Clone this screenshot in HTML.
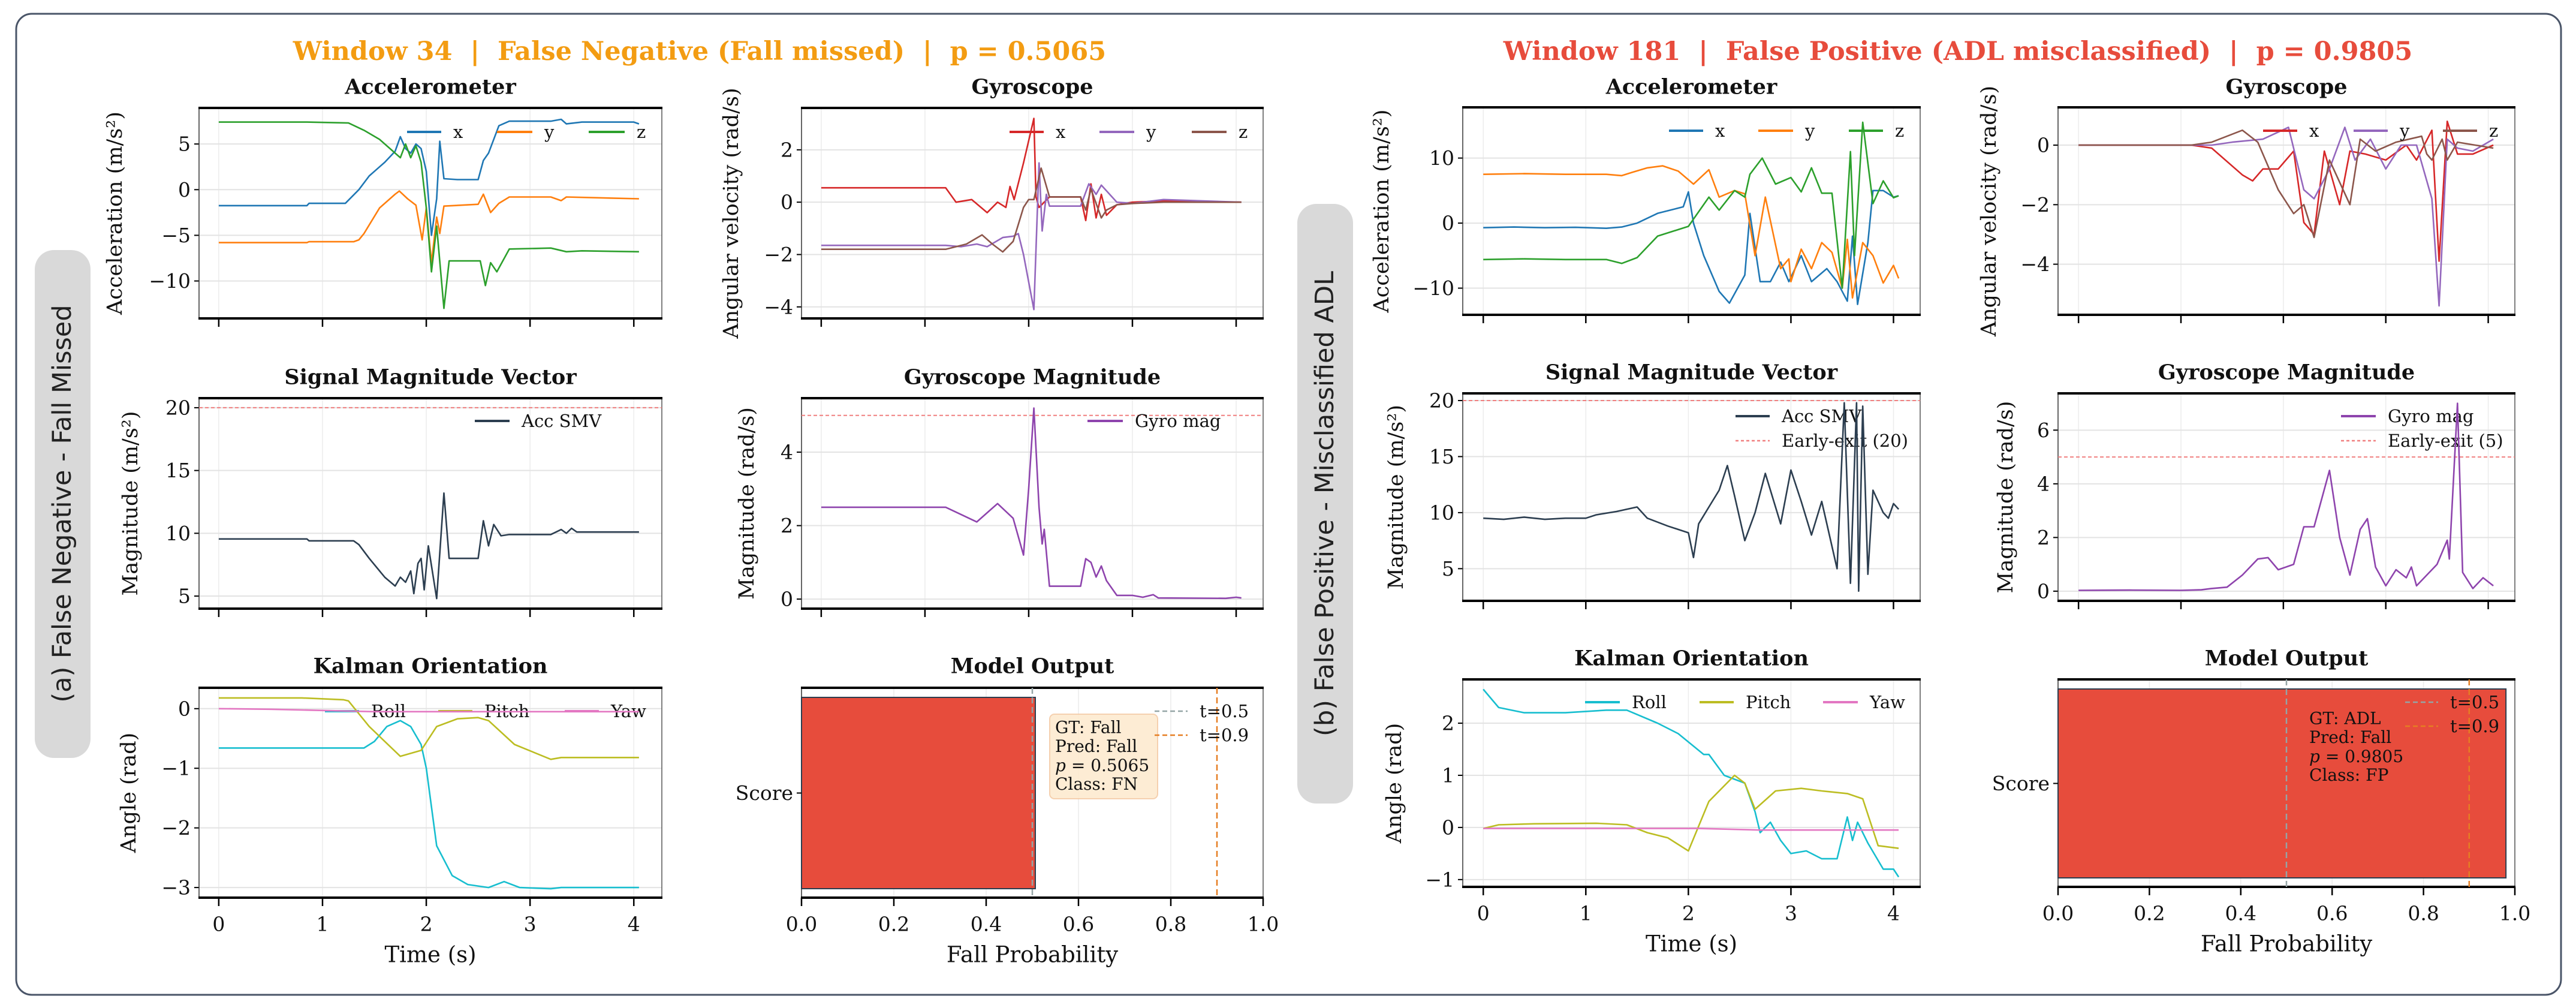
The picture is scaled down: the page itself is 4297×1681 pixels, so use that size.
<!DOCTYPE html>
<html><head><meta charset="utf-8"><title>Error analysis</title>
<style>html,body{margin:0;padding:0;background:#fff;}svg{display:block;}</style></head>
<body>
<svg id="chart" xmlns="http://www.w3.org/2000/svg" width="4297" height="1681" viewBox="0 0 4297 1681" font-family="'DejaVu Serif','Liberation Serif',serif">
<rect x="0" y="0" width="4297" height="1681" fill="#fff"/>
<rect x="27" y="23" width="4245" height="1636" rx="26" fill="none" stroke="#4a5568" stroke-width="3"/>
<rect x="58" y="417" width="93" height="847" rx="32" fill="#d9d9d9"/>
<text x="104" y="840" transform="rotate(-90 104 840)" text-anchor="middle" dominant-baseline="central" font-family="'DejaVu Sans','Liberation Sans',sans-serif" font-size="43" fill="#222">(a) False Negative - Fall Missed</text>
<rect x="2164" y="340" width="93" height="1000" rx="32" fill="#d9d9d9"/>
<text x="2210" y="840" transform="rotate(-90 2210 840)" text-anchor="middle" dominant-baseline="central" font-family="'DejaVu Sans','Liberation Sans',sans-serif" font-size="43" fill="#222">(b) False Positive - Misclassified ADL</text>
<text x="1167" y="86" text-anchor="middle" dominant-baseline="central" font-size="43" font-weight="bold" fill="#f39c12">Window 34 &#160;| &#160;False Negative (Fall missed) &#160;| &#160;p = 0.5065</text>
<text x="3266" y="86" text-anchor="middle" dominant-baseline="central" font-size="43" font-weight="bold" fill="#e74c3c">Window 181 &#160;| &#160;False Positive (ADL misclassified) &#160;| &#160;p = 0.9805</text>
</svg>
<script>
// ---------- DATA ----------
const timeTicks = [0, 1, 2, 3, 4];
const probTicks = [0, 0.2, 0.4, 0.6, 0.8, 1.0];
const probTickLabels = ["0.0", "0.2", "0.4", "0.6", "0.8", "1.0"];
const thresholds = [0.5, 0.9];
const thresholdLabels = ["t=0.5", "t=0.9"];
const probA = [0.5065];
const probB = [0.9805];
const smvLimit = [20];
const gyroLimit = [5];

const accA_x = [[0,-1.75],[0.85,-1.75],[0.87,-1.5],[1.22,-1.5],[1.35,0],[1.45,1.5],[1.5,2],[1.6,3],[1.7,4.2],[1.75,5.8],[1.8,4.5],[1.85,4],[1.9,5],[1.95,4.5],[2.0,2],[2.05,-5],[2.1,-1],[2.13,5.3],[2.17,1.2],[2.3,1.1],[2.5,1.1],[2.55,3.2],[2.6,4],[2.7,7],[2.8,7.5],[3.0,7.5],[3.2,7.5],[3.3,7.7],[3.35,7.2],[3.5,7.4],[4.0,7.4],[4.05,7.2]];
const accA_y = [[0,-5.8],[0.85,-5.8],[0.87,-5.7],[1.3,-5.7],[1.35,-5.5],[1.4,-4.8],[1.55,-2],[1.7,-0.5],[1.74,-0.15],[1.82,-1],[1.9,-1.7],[1.96,-5.5],[2.0,-2],[2.05,-8],[2.1,-3],[2.13,-4.8],[2.17,-1.8],[2.5,-1.6],[2.55,-0.5],[2.62,-2.5],[2.7,-1.5],[2.8,-0.8],[3.2,-0.8],[3.3,-1.2],[3.35,-0.8],[4.05,-1.0]];
const accA_z = [[0,7.4],[0.85,7.4],[1.25,7.3],[1.4,6.5],[1.55,5.5],[1.7,4],[1.75,3.5],[1.8,5],[1.85,3.5],[1.9,4.8],[1.95,3],[2.0,-2],[2.05,-9],[2.1,-4],[2.17,-13],[2.22,-7.8],[2.52,-7.8],[2.57,-10.5],[2.62,-8],[2.68,-9],[2.8,-6.5],[3.2,-6.4],[3.35,-6.8],[3.5,-6.7],[4.05,-6.8]];
const gyrA_x = [[0,0.55],[1.2,0.55],[1.3,0],[1.45,0.1],[1.6,-0.4],[1.7,0],[1.78,-0.2],[1.82,0.6],[1.86,0.1],[1.95,1.5],[2.05,3.2],[2.07,0.2],[2.1,-0.2],[2.2,0.2],[2.5,0.2],[2.55,-0.7],[2.6,0.7],[2.65,-0.6],[2.7,0.3],[2.75,-0.5],[2.85,-0.1],[3.0,0],[3.3,0.05],[4.05,0]];
const gyrA_y = [[0,-1.65],[1.2,-1.65],[1.35,-1.7],[1.5,-1.6],[1.6,-1.7],[1.75,-1.35],[1.85,-1.3],[1.9,-1.2],[1.95,-2],[2.05,-4.1],[2.1,1.5],[2.13,-1.1],[2.17,0.3],[2.2,-0.15],[2.5,-0.15],[2.58,0.7],[2.65,0.3],[2.7,0.65],[2.85,0],[3.0,-0.05],[3.3,0.1],[4.05,0]];
const gyrA_z = [[0,-1.8],[1.2,-1.8],[1.4,-1.6],[1.55,-1.25],[1.65,-1.6],[1.75,-1.9],[1.85,-1.5],[1.95,-0.2],[2.0,0.1],[2.05,0.1],[2.12,1.3],[2.2,0.2],[2.5,0.2],[2.55,-0.3],[2.6,0.5],[2.7,-0.6],[2.75,-0.3],[2.85,-0.1],[3.0,-0.05],[3.3,0],[4.05,0]];
const smvA = [[0,9.55],[0.85,9.55],[0.87,9.4],[1.3,9.4],[1.35,9.1],[1.45,8.0],[1.6,6.5],[1.7,5.8],[1.75,6.5],[1.8,6.1],[1.85,7],[1.88,5.2],[1.92,7.6],[1.95,8],[1.98,5.5],[2.02,9],[2.1,4.8],[2.17,13.2],[2.22,8.0],[2.5,8.0],[2.55,11],[2.6,9],[2.65,10.7],[2.72,9.8],[2.8,9.9],[3.2,9.9],[3.3,10.3],[3.35,10],[3.4,10.4],[3.45,10.1],[4.05,10.1]];
const gmagA = [[0,2.5],[1.2,2.5],[1.35,2.3],[1.5,2.1],[1.7,2.6],[1.85,2.2],[1.95,1.2],[2.0,3],[2.05,5.2],[2.1,2.5],[2.13,1.5],[2.15,1.9],[2.2,0.35],[2.5,0.35],[2.55,1.1],[2.6,1.0],[2.65,0.6],[2.7,0.9],[2.75,0.5],[2.85,0.1],[3.0,0.1],[3.1,0.05],[3.2,0.12],[3.25,0.03],[3.9,0.02],[4.0,0.05],[4.05,0.03]];
const kalA_roll = [[0,-0.66],[1.4,-0.66],[1.5,-0.55],[1.62,-0.3],[1.75,-0.2],[1.85,-0.3],[1.95,-0.6],[2.0,-1.0],[2.1,-2.3],[2.25,-2.8],[2.4,-2.95],[2.6,-3.0],[2.75,-2.9],[2.9,-3.0],[3.2,-3.02],[3.3,-3.0],[4.05,-3.0]];
const kalA_pitch = [[0,0.18],[0.8,0.18],[1.2,0.15],[1.25,0.13],[1.45,-0.3],[1.75,-0.8],[1.95,-0.7],[2.1,-0.3],[2.3,-0.17],[2.5,-0.15],[2.6,-0.2],[2.85,-0.6],[3.2,-0.85],[3.3,-0.82],[4.05,-0.82]];
const kalA_yaw = [[0,0],[0.5,-0.01],[1.0,-0.03],[1.5,-0.05],[4.05,-0.05]];

const accB_x = [[0,-0.7],[0.3,-0.6],[0.6,-0.7],[0.9,-0.65],[1.2,-0.8],[1.35,-0.6],[1.5,0],[1.7,1.5],[1.95,2.5],[2.0,4.8],[2.05,0],[2.15,-5],[2.3,-10.5],[2.4,-12.3],[2.55,-8],[2.6,1.5],[2.7,-9],[2.8,-9],[2.9,-6],[2.98,-9],[3.1,-5],[3.2,-9],[3.35,-7],[3.45,-9],[3.55,-12],[3.6,-2],[3.65,-12.5],[3.75,-3],[3.8,5],[3.9,5],[4.0,4],[4.05,4.2]];
const accB_y = [[0,7.5],[0.4,7.6],[0.8,7.5],[1.2,7.5],[1.35,7.3],[1.45,7.8],[1.6,8.5],[1.75,8.8],[1.9,8],[2.05,6],[2.2,8.2],[2.3,4],[2.45,5],[2.55,4.5],[2.65,-5],[2.75,4],[2.9,-7],[2.98,-5.5],[3.0,-9],[3.1,-4],[3.2,-7],[3.3,-3],[3.4,-4.5],[3.5,-10],[3.55,-2.5],[3.6,-11.5],[3.7,-3],[3.8,-5],[3.9,-9.2],[4.0,-6.5],[4.05,-8.5]];
const accB_z = [[0,-5.6],[0.4,-5.5],[0.8,-5.6],[1.2,-5.6],[1.35,-6.2],[1.5,-5.3],[1.7,-2],[2.0,-0.5],[2.2,4],[2.3,2],[2.45,5],[2.55,4],[2.6,7.5],[2.72,10],[2.85,6],[3.0,7],[3.1,4.8],[3.2,8.5],[3.3,4.6],[3.4,4.6],[3.5,-10],[3.58,11],[3.62,-5],[3.7,15.5],[3.8,3],[3.9,6.5],[4.0,3.9],[4.05,4.2]];
const gyrB_x = [[0,0],[1.1,0],[1.3,-0.1],[1.6,-1.0],[1.7,-1.2],[1.8,-0.8],[1.95,-0.8],[2.1,-0.2],[2.2,-2.6],[2.3,-3.0],[2.4,-0.2],[2.55,-2.0],[2.65,-0.2],[2.8,-0.3],[3.0,-0.5],[3.2,0],[3.3,-0.5],[3.45,0.5],[3.52,-3.9],[3.6,0.8],[3.7,-0.3],[3.85,-0.3],[4.05,0]];
const gyrB_y = [[0,0],[1.3,0],[1.5,0.1],[1.8,0.2],[2.05,0.6],[2.2,-1.5],[2.3,-1.8],[2.45,-0.8],[2.6,0.6],[2.7,-0.5],[2.85,0.2],[3.0,-0.8],[3.15,0],[3.3,0],[3.45,-1.8],[3.52,-5.4],[3.6,0.2],[3.7,-0.1],[3.85,-0.2],[4.05,0.2]];
const gyrB_z = [[0,0],[1.1,0],[1.3,0.1],[1.6,0.5],[1.75,0.1],[1.95,-1.5],[2.1,-2.3],[2.2,-2.0],[2.3,-3.1],[2.45,-0.5],[2.65,-2.0],[2.75,0.2],[2.9,-0.2],[3.1,0.1],[3.35,0.3],[3.4,-0.3],[3.45,-0.5],[3.55,0.2],[3.6,-0.5],[3.7,0.1],[4.05,-0.1]];
const smvB = [[0,9.5],[0.2,9.4],[0.4,9.6],[0.6,9.4],[0.8,9.5],[1.0,9.5],[1.1,9.8],[1.3,10.1],[1.5,10.5],[1.6,9.5],[1.8,8.8],[2.0,8.2],[2.05,6],[2.1,9],[2.2,10.5],[2.3,12],[2.38,14.2],[2.45,11.5],[2.55,7.5],[2.65,10],[2.75,13.5],[2.9,9],[3.0,13.8],[3.1,11],[3.2,8],[3.3,11],[3.45,5],[3.52,19.8],[3.58,3.7],[3.64,19.8],[3.66,3],[3.7,19.5],[3.75,4.5],[3.8,12],[3.9,10],[3.95,9.5],[4.0,10.8],[4.05,10.3]];
const gmagB = [[0,0.03],[0.5,0.04],[1.0,0.03],[1.2,0.05],[1.3,0.1],[1.45,0.15],[1.6,0.6],[1.75,1.2],[1.85,1.25],[1.95,0.8],[2.1,1.0],[2.2,2.4],[2.3,2.4],[2.45,4.5],[2.55,2.0],[2.65,0.6],[2.75,2.3],[2.82,2.7],[2.9,0.9],[3.0,0.2],[3.1,0.8],[3.2,0.5],[3.25,0.9],[3.3,0.2],[3.4,0.6],[3.5,1.0],[3.6,1.9],[3.62,1.2],[3.7,7.0],[3.75,0.7],[3.85,0.1],[3.95,0.5],[4.05,0.2]];
const kalB_roll = [[0,2.65],[0.15,2.3],[0.4,2.2],[0.8,2.2],[1.2,2.25],[1.4,2.25],[1.7,2.0],[1.9,1.8],[2.15,1.4],[2.2,1.4],[2.35,1.0],[2.55,0.85],[2.65,0.3],[2.7,-0.1],[2.8,0.1],[2.9,-0.25],[3.0,-0.5],[3.15,-0.45],[3.3,-0.6],[3.45,-0.6],[3.55,0.2],[3.6,-0.25],[3.65,0.1],[3.75,-0.3],[3.9,-0.8],[4.0,-0.8],[4.05,-0.95]];
const kalB_pitch = [[0,-0.02],[0.15,0.05],[0.5,0.07],[1.1,0.08],[1.4,0.05],[1.6,-0.1],[1.8,-0.2],[2.0,-0.45],[2.2,0.5],[2.45,1.0],[2.55,0.85],[2.65,0.35],[2.85,0.7],[3.1,0.75],[3.3,0.7],[3.55,0.65],[3.7,0.55],[3.85,-0.35],[4.05,-0.4]];
const kalB_yaw = [[0,-0.02],[2.1,-0.02],[2.7,-0.05],[4.05,-0.05]];

// ---------- HELPERS ----------
const NS = "http://www.w3.org/2000/svg";
const svg = document.getElementById('chart');
function mk(tag, attrs, parent) {
  const e = document.createElementNS(NS, tag);
  for (const k in attrs) e.setAttribute(k, attrs[k]);
  (parent || svg).appendChild(e);
  return e;
}
function fmt(v) { return (v < 0 ? "\u2212" : "") + Math.abs(v); }

function panel(p) {
  const g = mk('g', {});
  
  
  const sx = v => p.x0 + (v - p.xmin) / (p.xmax - p.xmin) * (p.x1 - p.x0);
  const sy = v => p.y1 - (v - p.ymin) / (p.ymax - p.ymin) * (p.y1 - p.y0);
  p.xt.forEach(v => {
    const l = mk('line', {x1: sx(v), x2: sx(v), y1: p.y0, y2: p.y1, stroke: '#ececec', 'stroke-width': 1.5}, g);
    
    
  });
  (p.yt || []).forEach(v => {
    const l = mk('line', {x1: p.x0, x2: p.x1, y1: sy(v), y2: sy(v), stroke: '#e3e3e3', 'stroke-width': 2}, g);
    
    
  });
  p.xt.forEach((v, i) => {
    const t = mk('line', {x1: sx(v), x2: sx(v), y1: p.y1, y2: p.y1 + 14, stroke: '#000', 'stroke-width': 2.5}, g);
    
    
    if (p.xlabels) {
      const tx = mk('text', {x: sx(v), y: p.y1 + 44, 'text-anchor': 'middle', 'dominant-baseline': 'central', 'font-size': 33, fill: '#111'}, g);
      tx.textContent = p.xlabels[i];
      
      
    }
  });
  (p.yt || []).forEach(v => {
    const t = mk('line', {x1: p.x0 - 8, x2: p.x0, y1: sy(v), y2: sy(v), stroke: '#000', 'stroke-width': 2}, g);
    
    
    const tx = mk('text', {x: p.x0 - 14, y: sy(v), 'text-anchor': 'end', 'dominant-baseline': 'central', 'font-size': 33, fill: '#111'}, g);
    tx.textContent = fmt(v);
    
    
  });
  const sl = mk('line', {x1: p.x0, x2: p.x0, y1: p.y0, y2: p.y1, stroke: '#333', 'stroke-width': 1.5}, g);
  
  
  const sr = mk('line', {x1: p.x1, x2: p.x1, y1: p.y0, y2: p.y1, stroke: '#555', 'stroke-width': 1.5}, g);
  
  
  const st = mk('line', {x1: p.x0 - 1, x2: p.x1 + 1, y1: p.y0, y2: p.y0, stroke: '#000', 'stroke-width': 4}, g);
  
  
  const sb = mk('line', {x1: p.x0 - 1, x2: p.x1 + 1, y1: p.y1, y2: p.y1, stroke: '#000', 'stroke-width': 4}, g);
  
  
  const ti = mk('text', {x: (p.x0 + p.x1) / 2, y: p.titleY, 'text-anchor': 'middle', 'dominant-baseline': 'central', 'font-size': 35, 'font-weight': 'bold', fill: '#111'}, g);
  ti.textContent = p.title;
  
  
  if (p.ylabel) {
    const cy = (p.y0 + p.y1) / 2;
    const yl = mk('text', {x: p.ylx, y: cy, transform: `rotate(-90 ${p.ylx} ${cy})`, 'text-anchor': 'middle', 'dominant-baseline': 'central', 'font-size': 35, fill: '#111'}, g);
    yl.textContent = p.ylabel;
    
    
  }
  if (p.xlabel) {
    const xl = mk('text', {x: (p.x0 + p.x1) / 2, y: p.y1 + 95, 'text-anchor': 'middle', 'dominant-baseline': 'central', 'font-size': 37, fill: '#111'}, g);
    xl.textContent = p.xlabel;
    
    
  }
  p.g = g; p.sx = sx; p.sy = sy;
  return p;
}
function series(p, data, color, width) {
  const pts = data.map(d => p.sx(d[0]).toFixed(1) + ',' + p.sy(d[1]).toFixed(1)).join(' ');
  return mk('polyline', {points: pts, fill: 'none', stroke: color, 'stroke-width': width || 2.6, 'stroke-linejoin': 'round'}, p.g);
}
function hline(p, v, color) {
  return mk('line', {x1: p.x0, x2: p.x1, y1: p.sy(v), y2: p.sy(v), stroke: color, 'stroke-width': 2, 'stroke-dasharray': '6 4'}, p.g);
}
function legend(p, x1, x2, y, label, color, dash) {
  const l = mk('line', {x1: x1, x2: x2, y1: y, y2: y, stroke: color, 'stroke-width': dash ? 2.5 : 4}, p.g);
  if (dash) l.setAttribute('stroke-dasharray', dash);
  
  
  const t = mk('text', {x: x2 + 20, y: y, 'dominant-baseline': 'central', 'font-size': 29, fill: '#111'}, p.g);
  t.textContent = label;
  
  
}

const C = {x: '#1f77b4', y: '#ff7f0e', z: '#2ca02c', gx: '#d62728', gy: '#9467bd', gz: '#8c564b', smv: '#2c3e50', gm: '#8e44ad', roll: '#17becf', pitch: '#bcbd22', yaw: '#e377c2', bar: '#e74c3c'};
const tlabels = timeTicks.map(String);

// ================= PANEL A =================
const aAcc = panel({name: 'a-accelerometer-plot', x0: 332, x1: 1104, y0: 180, y1: 531, xmin: -0.19, xmax: 4.27, ymin: -14.1, ymax: 8.95, xt: timeTicks, yt: [5, 0, -5, -10], title: 'Accelerometer', titleY: 145, ylabel: 'Acceleration (m/s²)', ylx: 192});
let s;
s = series(aAcc, accA_x, C.x);  
s = series(aAcc, accA_y, C.y);  
s = series(aAcc, accA_z, C.z);  
legend(aAcc, 679, 736, 220, 'x', C.x); legend(aAcc, 829, 888, 220, 'y', C.y); legend(aAcc, 982, 1042, 220, 'z', C.z);

const aGyr = panel({name: 'a-gyroscope-plot', x0: 1337, x1: 2107, y0: 180, y1: 531, xmin: -0.19, xmax: 4.26, ymin: -4.44, ymax: 3.6, xt: timeTicks, yt: [2, 0, -2, -4], title: 'Gyroscope', titleY: 145, ylabel: 'Angular velocity (rad/s)', ylx: 1220});
s = series(aGyr, gyrA_x, C.gx);  
s = series(aGyr, gyrA_y, C.gy);  
s = series(aGyr, gyrA_z, C.gz);  
legend(aGyr, 1684, 1741, 220, 'x', C.gx); legend(aGyr, 1834, 1892, 220, 'y', C.gy); legend(aGyr, 1988, 2046, 220, 'z', C.gz);

const aSmv = panel({name: 'a-smv-plot', x0: 332, x1: 1104, y0: 664, y1: 1015, xmin: -0.19, xmax: 4.27, ymin: 4.0, ymax: 20.76, xt: timeTicks, yt: [20, 15, 10, 5], title: 'Signal Magnitude Vector', titleY: 629, ylabel: 'Magnitude (m/s²)', ylx: 218});
s = hline(aSmv, smvLimit[0], '#f08080');  
s = series(aSmv, smvA, C.smv);  
legend(aSmv, 792, 850, 702, 'Acc SMV', C.smv);

const aGm = panel({name: 'a-gyro-magnitude-plot', x0: 1337, x1: 2107, y0: 664, y1: 1015, xmin: -0.19, xmax: 4.26, ymin: -0.26, ymax: 5.47, xt: timeTicks, yt: [4, 2, 0], title: 'Gyroscope Magnitude', titleY: 629, ylabel: 'Magnitude (rad/s)', ylx: 1246});
s = hline(aGm, gyroLimit[0], '#f08080');  
s = series(aGm, gmagA, C.gm);  
legend(aGm, 1814, 1873, 702, 'Gyro mag', C.gm);

const aKal = panel({name: 'a-kalman-plot', x0: 332, x1: 1104, y0: 1147, y1: 1497, xmin: -0.19, xmax: 4.27, ymin: -3.17, ymax: 0.35, xt: timeTicks, xlabels: tlabels, yt: [0, -1, -2, -3], title: 'Kalman Orientation', titleY: 1111, ylabel: 'Angle (rad)', ylx: 215, xlabel: 'Time (s)'});
legend(aKal, 542, 599, 1186, 'Roll', C.roll); legend(aKal, 731, 788, 1186, 'Pitch', C.pitch); legend(aKal, 942, 999, 1186, 'Yaw', C.yaw);
s = series(aKal, kalA_roll, C.roll);  
s = series(aKal, kalA_pitch, C.pitch);  
s = series(aKal, kalA_yaw, C.yaw);  

function modelPanel(p, prob, barTop, barBot, box, lines, textX, textY0) {
  const m = panel(p);
  const r = mk('rect', {x: m.sx(0), y: barTop, width: m.sx(prob[0]) - m.sx(0), height: barBot - barTop, fill: C.bar, stroke: '#2c3e50', 'stroke-width': 2}, m.g);
  
  
  const cols = ['#95a5a6', '#e67e22'];
  thresholds.forEach((t, i) => {
    const l = mk('line', {x1: m.sx(t), x2: m.sx(t), y1: m.y0, y2: m.y1, stroke: cols[i], 'stroke-width': 2.5, 'stroke-dasharray': '10 6'}, m.g);
    
    
  });
  const cy = (barTop + barBot) / 2;
  const tk = mk('line', {x1: m.x0 - 8, x2: m.x0, y1: cy, y2: cy, stroke: '#000', 'stroke-width': 2}, m.g);
  
  
  const sc = mk('text', {x: m.x0 - 14, y: cy, 'text-anchor': 'end', 'dominant-baseline': 'central', 'font-size': 33, fill: '#111'}, m.g);
  sc.textContent = 'Score';
  
  
  if (box) {
    const b = mk('rect', {x: box[0], y: box[1], width: box[2], height: box[3], rx: 8, fill: '#fdebd0', stroke: '#f5cba7', 'stroke-width': 2, opacity: 0.9}, m.g);
    
    
  }
  lines.forEach((ln, i) => {
    const t = mk('text', {x: textX, y: textY0 + i * 31.5, 'dominant-baseline': 'central', 'font-size': 28, fill: '#111'}, m.g);
    if (ln.startsWith('p')) {
      const it = mk('tspan', {'font-style': 'italic'}, t); it.textContent = 'p';
      const rest = mk('tspan', {}, t); rest.textContent = ln.slice(1);
    } else t.textContent = ln;
    
    
  });
  return m;
}
const aMod = modelPanel({name: 'a-model-output-plot', x0: 1337, x1: 2107, y0: 1147, y1: 1497, xmin: 0, xmax: 1, ymin: 0, ymax: 1, xt: probTicks, xlabels: probTickLabels, yt: [], title: 'Model Output', titleY: 1111, xlabel: 'Fall Probability'},
  probA, 1163, 1482, [1751, 1191, 180, 141], ['GT: Fall', 'Pred: Fall', 'p = ' + probA[0].toFixed(4), 'Class: FN'], 1760, 1213);
legend(aMod, 1926, 1981, 1186, thresholdLabels[0], '#95a5a6', '8 5');
legend(aMod, 1926, 1981, 1226, thresholdLabels[1], '#e67e22', '8 5');

// ================= PANEL B =================
const bAcc = panel({name: 'b-accelerometer-plot', x0: 2440, x1: 3203, y0: 179, y1: 525, xmin: -0.2, xmax: 4.26, ymin: -14.1, ymax: 17.8, xt: timeTicks, yt: [10, 0, -10], title: 'Accelerometer', titleY: 145, ylabel: 'Acceleration (m/s²)', ylx: 2305});
s = series(bAcc, accB_x, C.x);  
s = series(bAcc, accB_y, C.y);  
s = series(bAcc, accB_z, C.z);  
legend(bAcc, 2784, 2841, 218, 'x', C.x); legend(bAcc, 2933, 2991, 218, 'y', C.y); legend(bAcc, 3084, 3141, 218, 'z', C.z);

const bGyr = panel({name: 'b-gyroscope-plot', x0: 3433, x1: 4195, y0: 179, y1: 525, xmin: -0.2, xmax: 4.26, ymin: -5.7, ymax: 1.27, xt: timeTicks, yt: [0, -2, -4], title: 'Gyroscope', titleY: 145, ylabel: 'Angular velocity (rad/s)', ylx: 3318});
s = series(bGyr, gyrB_x, C.gx);  
s = series(bGyr, gyrB_y, C.gy);  
s = series(bGyr, gyrB_z, C.gz);  
legend(bGyr, 3775, 3832, 218, 'x', C.gx); legend(bGyr, 3926, 3983, 218, 'y', C.gy); legend(bGyr, 4075, 4132, 218, 'z', C.gz);

const bSmv = panel({name: 'b-smv-plot', x0: 2440, x1: 3203, y0: 656, y1: 1002, xmin: -0.2, xmax: 4.26, ymin: 2.13, ymax: 20.64, xt: timeTicks, yt: [20, 15, 10, 5], title: 'Signal Magnitude Vector', titleY: 621, ylabel: 'Magnitude (m/s²)', ylx: 2329});
s = hline(bSmv, smvLimit[0], '#f08080');  
legend(bSmv, 2895, 2952, 694, 'Acc SMV', C.smv);
legend(bSmv, 2895, 2952, 735, 'Early-exit (20)', '#f08080', '5 4');
s = series(bSmv, smvB, C.smv);  

const bGm = panel({name: 'b-gyro-magnitude-plot', x0: 3433, x1: 4195, y0: 656, y1: 1002, xmin: -0.2, xmax: 4.26, ymin: -0.36, ymax: 7.37, xt: timeTicks, yt: [6, 4, 2, 0], title: 'Gyroscope Magnitude', titleY: 621, ylabel: 'Magnitude (rad/s)', ylx: 3346});
s = hline(bGm, gyroLimit[0], '#f08080');  
legend(bGm, 3905, 3963, 694, 'Gyro mag', C.gm);
legend(bGm, 3905, 3963, 735, 'Early-exit (5)', '#f08080', '5 4');
s = series(bGm, gmagB, C.gm);  

const bKal = panel({name: 'b-kalman-plot', x0: 2440, x1: 3203, y0: 1133, y1: 1479, xmin: -0.2, xmax: 4.26, ymin: -1.14, ymax: 2.84, xt: timeTicks, xlabels: tlabels, yt: [2, 1, 0, -1], title: 'Kalman Orientation', titleY: 1098, ylabel: 'Angle (rad)', ylx: 2326, xlabel: 'Time (s)'});
s = series(bKal, kalB_roll, C.roll);  
s = series(bKal, kalB_pitch, C.pitch);  
s = series(bKal, kalB_yaw, C.yaw);  
legend(bKal, 2644, 2702, 1171, 'Roll', C.roll); legend(bKal, 2835, 2892, 1171, 'Pitch', C.pitch); legend(bKal, 3041, 3099, 1171, 'Yaw', C.yaw);

const bMod = modelPanel({name: 'b-model-output-plot', x0: 3433, x1: 4195, y0: 1133, y1: 1479, xmin: 0, xmax: 1, ymin: 0, ymax: 1, xt: probTicks, xlabels: probTickLabels, yt: [], title: 'Model Output', titleY: 1098, xlabel: 'Fall Probability'},
  probB, 1149, 1464, null, ['GT: ADL', 'Pred: Fall', 'p = ' + probB[0].toFixed(4), 'Class: FP'], 3852, 1198);
legend(bMod, 4012, 4067, 1171, thresholdLabels[0], '#95a5a6', '8 5');
legend(bMod, 4012, 4067, 1211, thresholdLabels[1], '#e67e22', '8 5');
</script>
</body></html>
